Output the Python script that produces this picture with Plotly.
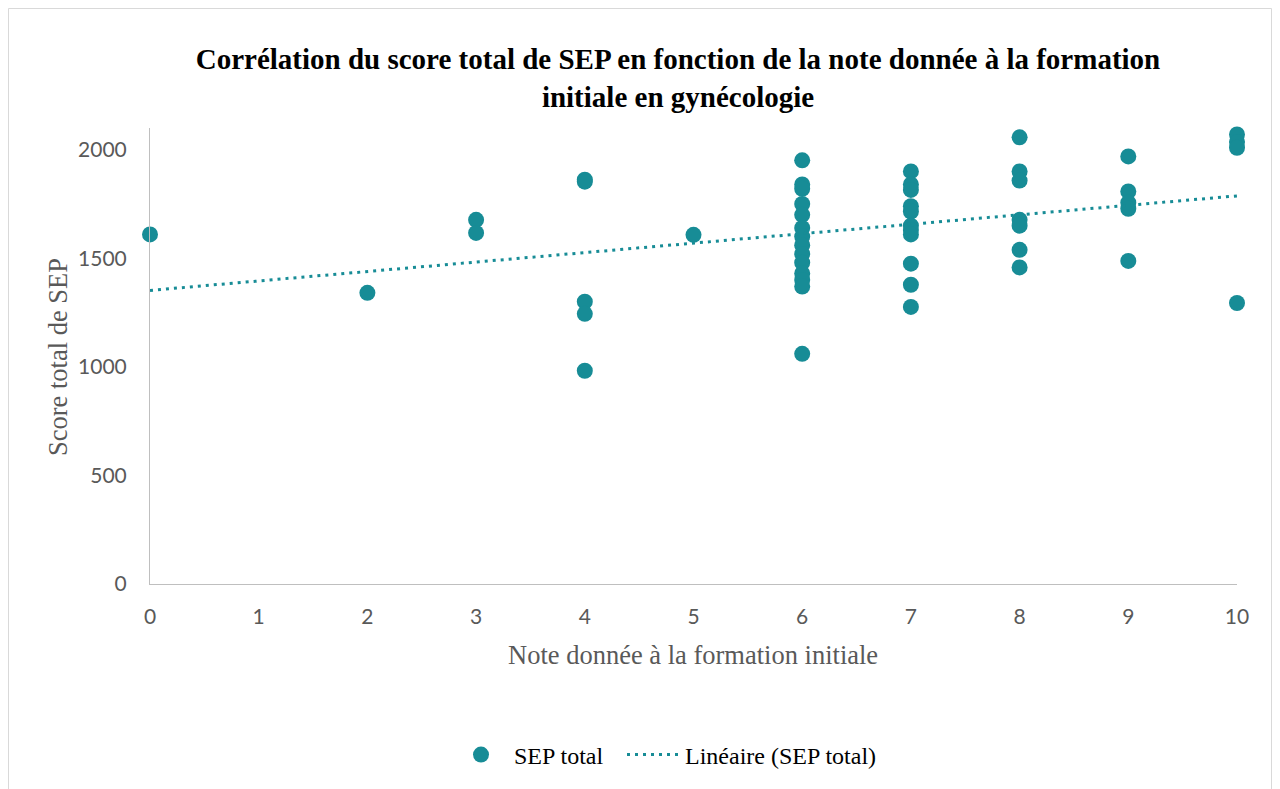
import numpy as np
import plotly.graph_objects as go

# Data: (note, SEP total score)
notes = [0,
         2,
         3, 3,
         4, 4, 4, 4, 4,
         5,
         6, 6, 6, 6, 6, 6, 6, 6, 6, 6, 6, 6, 6, 6,
         7, 7, 7, 7, 7, 7, 7, 7, 7, 7, 7,
         8, 8, 8, 8, 8, 8, 8,
         9, 9, 9, 9, 9,
         10, 10, 10, 10]
scores = [1610,
          1341,
          1677, 1617,
          1862, 1853, 1300, 1244, 982,
          1608,
          1951, 1840, 1820, 1750, 1700, 1640, 1600, 1560, 1520, 1480, 1430, 1400, 1370, 1060,
          1900, 1840, 1815, 1740, 1715, 1650, 1630, 1610, 1475, 1378, 1276,
          2057, 1900, 1858, 1677, 1650, 1539, 1458,
          1969, 1808, 1756, 1728, 1488,
          2070, 2035, 2009, 1294]

x_ticks = [0, 1, 2, 3, 4, 5, 6, 7, 8, 9, 10]
y_ticks = [0, 500, 1000, 1500, 2000]

title_text = "Corrélation du score total de SEP en fonction de la note donnée à la formation<br>initiale en gynécologie"
x_title = "Note donnée à la formation initiale"
y_title = "Score total de SEP"

TEAL = "#178c96"

slope, intercept = np.polyfit(notes, scores, 1)
trend_x = [0, 10]
trend_y = [intercept + slope * v for v in trend_x]

fig = go.Figure()
fig.add_trace(go.Scatter(
    x=notes, y=scores, mode="markers", name="SEP total",
    marker=dict(color=TEAL, size=16, line=dict(width=0)),
    cliponaxis=False, legend="legend",
))
fig.add_trace(go.Scatter(
    x=trend_x, y=trend_y, mode="lines", name="Linéaire (SEP total)",
    line=dict(color=TEAL, width=3, dash="3px,5px"),
    cliponaxis=False, legend="legend2",
))

# page offset of the figure inside the browser (body margin)
OFF = 8
W, H = 1280 - OFF, 789 - OFF
X0, X1, Y_TOP, Y_BOT = 150, 1237, 128, 584   # plot area in screen pixels
L, R, T, B = X0 - OFF, (1280 - X1), Y_TOP - OFF, (789 - Y_BOT)
pw, ph = X1 - X0, Y_BOT - Y_TOP

def px(xp):
    return (xp - X0) / pw

def py(yp):
    return (Y_BOT - yp) / ph

legend_font = dict(family="Liberation Serif", size=24, color="#000000")

fig.update_layout(
    width=W, height=H,
    margin=dict(l=L, r=R, t=T, b=B, autoexpand=False),
    paper_bgcolor="white", plot_bgcolor="white",
    showlegend=True,
    legend=dict(orientation="h", x=px(448), xanchor="left", y=py(755), yanchor="middle",
                font=legend_font, itemwidth=56),
    legend2=dict(orientation="h", x=px(622), xanchor="left", y=py(755), yanchor="middle",
                 font=legend_font, itemwidth=53),
    title=dict(text=title_text, x=px(678), xref="paper", xanchor="center",
               y=1 - (69 - OFF) / H, yanchor="middle",
               font=dict(family="Liberation Serif", size=29, color="#000000", weight="bold")),
    xaxis=dict(range=[0, 10], tickvals=x_ticks, ticktext=[str(v) for v in x_ticks],
               showgrid=False, zeroline=False, showline=True, linecolor="#bfbfbf", linewidth=1,
               ticks="", tickfont=dict(family="Lato", size=21, color="#595959"), ticklabelstandoff=14),
    yaxis=dict(range=[0, 2100], tickvals=y_ticks, ticktext=[str(v) for v in y_ticks],
               showgrid=False, zeroline=False, showline=True, linecolor="#bfbfbf", linewidth=1,
               ticks="", tickfont=dict(family="Lato", size=21, color="#595959"), ticklabelstandoff=18),
    shapes=[dict(type="rect", xref="paper", yref="paper",
                 x0=px(8.5), x1=px(1271.5), y0=py(820), y1=py(8.5),
                 line=dict(color="#d9d9d9", width=1), fillcolor="rgba(0,0,0,0)", layer="below")],
    annotations=[
        dict(text=x_title, xref="paper", yref="paper", x=px(693), y=py(655),
             xanchor="center", yanchor="middle", showarrow=False,
             font=dict(family="Liberation Serif", size=26.5, color="#595959")),
        dict(text=y_title, xref="paper", yref="paper", x=px(58), y=py(357),
             xanchor="center", yanchor="middle", showarrow=False, textangle=-90,
             font=dict(family="Liberation Serif", size=26.5, color="#595959")),
    ],
)

fig.write_html("out.html")
